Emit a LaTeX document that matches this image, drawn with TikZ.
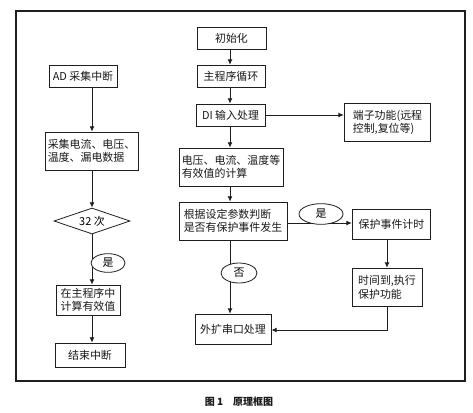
\documentclass[tikz,border=0pt]{standalone}
\usepackage{fontspec}
\setmainfont{Noto Sans CJK SC}
\newfontfamily\cjk{Noto Sans CJK SC}
\usetikzlibrary{positioning,arrows.meta,shapes.geometric,calc}
\definecolor{lineclr}{RGB}{30,30,30}
\definecolor{txtclr}{RGB}{25,25,25}
\tikzset{
  box/.style={rectangle,draw=lineclr,semithick,fill=white,text=txtclr,
              inner sep=2pt,font=\fontsize{8.2pt}{10pt}\selectfont\cjk},
  tbox/.style={box,align=left},
  cond/.style={diamond,draw=lineclr,semithick,fill=white,inner sep=0pt,
               minimum width=57pt,minimum height=19.5pt,aspect=2.9,
               font=\fontsize{8.2pt}{10pt}\selectfont\cjk},
  tag/.style={ellipse,draw=lineclr,semithick,fill=white,inner sep=0pt,
              font=\fontsize{8.2pt}{10pt}\selectfont\cjk},
  arr/.style={-{Latex[length=4pt,width=3.6pt]},semithick,draw=lineclr},
  frame/.style={draw=lineclr,line width=0.9pt},
}
\begin{document}
\begin{tikzpicture}[x=0.75pt, y=-0.75pt]
\useasboundingbox (0,0) rectangle (473,412);
\draw[frame] (16,11) rectangle (465,381);

% main program column
\node[box,minimum width=51.75pt,minimum height=16.5pt] (init) at (231.5,38) {初始化};
\node[box,minimum width=51pt,minimum height=17pt] (mainloop) at (231,76.5) {主程序循环};
\node[box,minimum width=51.75pt,minimum height=16.5pt] (di) at (230.5,115) {DI 输入处理};
\node[tbox,minimum width=78pt,minimum height=28.5pt] (calc) at (231,167) {电压、电流、温度等\\有效值的计算};
\node[tbox,minimum width=81pt,minimum height=28.5pt] (judge) at (233,221) {根据设定参数判断\\是否有保护事件发生};
\node[box,minimum width=57pt,minimum height=23pt] (serial) at (233,329.5) {外扩串口处理};

% right side
\node[tbox,minimum width=65pt,minimum height=29pt] (term) at (387.5,122.5) {端子功能(远程\\控制,复位等)};
\node[box,minimum width=59pt,minimum height=23pt] (timer) at (391.5,224.5) {保护事件计时};
\node[tbox,minimum width=52.5pt,minimum height=29pt] (exec) at (387,287.5) {时间到,执行\\保护功能};

% AD interrupt column
\node[box,minimum width=51pt,minimum height=16.5pt] (ad) at (83,76) {AD 采集中断};
\node[tbox,minimum width=65pt,minimum height=28.5pt] (sample) at (91.5,151) {采集电流、电压、\\温度、漏电数据};
\node[cond] (cnt) at (92,221) {32 次};
\node[tbox,minimum width=48pt,minimum height=22.5pt] (mcalc) at (88,300) {在主程序中\\计算有效值};
\node[box,minimum width=52.5pt,minimum height=18pt] (adend) at (90,355) {结束中断};

\coordinate (lx) at (92,0);
\coordinate (rx) at (230,0);
\coordinate (dx) at (387,0);
\coordinate (bend) at (387,330);

\draw[arr] (init.south -| rx) -- (mainloop.north -| rx);
\draw[arr] (mainloop.south -| rx) -- (di.north -| rx);
\draw[arr] (di.south -| rx) -- (calc.north -| rx);
\draw[arr] (calc.south -| rx) -- (judge.north -| rx);
\draw[arr] (judge.south -| rx) -- (serial.north -| rx);
\draw[arr] (di.east) -- (di.east -| term.west);
\draw[arr] (judge.east |- 0,223) -- (timer.west |- 0,223);
\draw[arr] (timer.south -| dx) -- (exec.north -| dx);
\draw[arr] (exec.south -| dx) -- (bend) -- (serial.east |- bend);

\draw[arr] (ad.south -| lx) -- (sample.north -| lx);
\draw[arr] (sample.south -| lx) -- (cnt.north);
\draw[arr] (cnt.south) -- (mcalc.north -| lx);
\draw[arr] (mcalc.south -| lx) -- (adend.north -| lx);

\node[tag,minimum width=33pt,minimum height=15.5pt] (yes1) at (321,214) {是};
\node[tag,minimum width=27pt,minimum height=15pt] (no1) at (239,273) {否};
\node[tag,minimum width=25.5pt,minimum height=14pt] (yes2) at (108,263) {是};

\node[font=\fontsize{7.5pt}{9pt}\selectfont\cjk\bfseries,text=txtclr] (cap) at (239,402) {图 1\quad 原理框图};
\end{tikzpicture}
\end{document}
